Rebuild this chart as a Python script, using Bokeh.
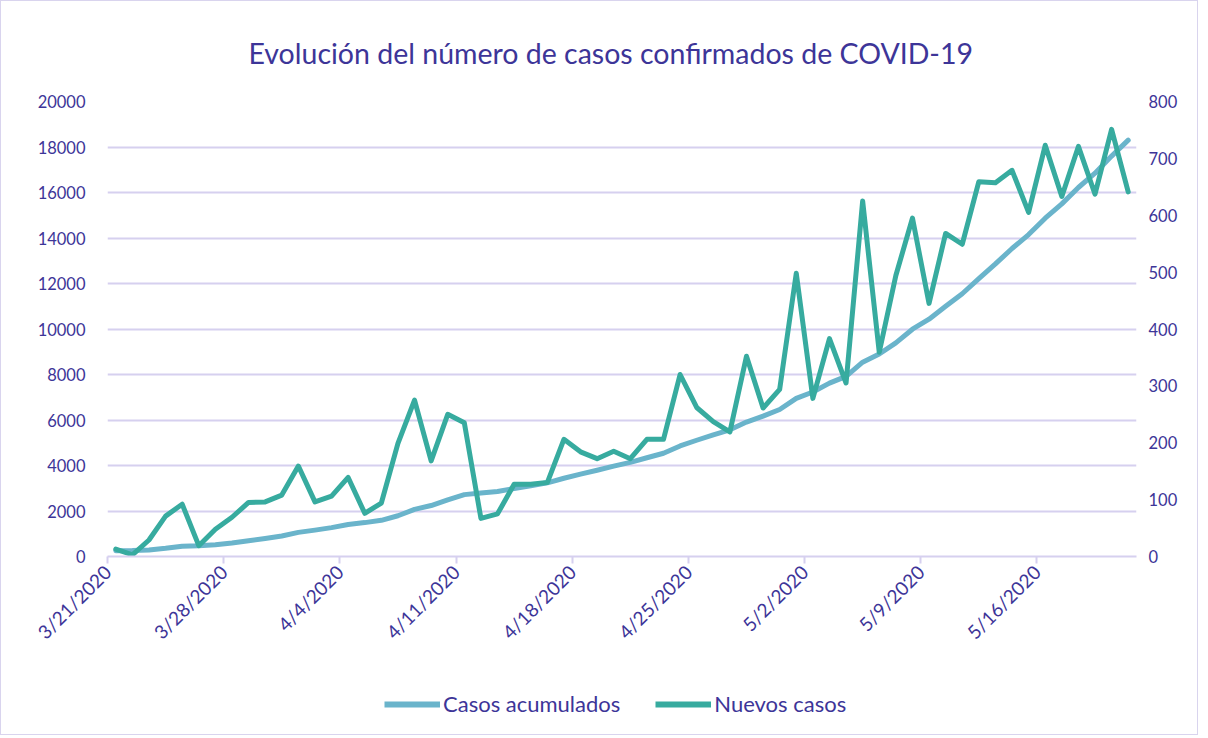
import math
from bokeh.plotting import figure
from bokeh.layouts import column
from bokeh.models import (Range1d, LinearAxis, FixedTicker, Legend, LegendItem,
                          ColumnDataSource)
from bokeh.embed import file_html
from bokeh.resources import INLINE

title_text = "Evolución del número de casos confirmados de COVID-19"

tick_labels = ["3/21/2020", "3/28/2020", "4/4/2020", "4/11/2020", "4/18/2020",
               "4/25/2020", "5/2/2020", "5/9/2020", "5/16/2020"]

casos_acumulados = [250, 260, 290, 360, 450, 470, 520, 590, 690, 790,
                    900, 1060, 1160, 1270, 1410, 1490, 1590, 1790, 2070, 2240,
                    2490, 2720, 2790, 2860, 2990, 3110, 3240, 3440, 3620, 3790,
                    3970, 4140, 4340, 4540, 4860, 5110, 5350, 5570, 5910, 6170,
                    6460, 6950, 7230, 7620, 7920, 8540, 8900, 9390, 9990, 10430,
                    11000, 11550, 12210, 12860, 13540, 14150, 14870, 15500, 16220, 16850,
                    17600, 18300]

nuevos_casos = [13, 3, 29, 71, 92, 19, 48, 69, 95, 96,
                108, 159, 96, 106, 139, 76, 94, 199, 275, 168,
                250, 235, 67, 75, 127, 127, 130, 206, 184, 172,
                185, 172, 206, 206, 320, 262, 237, 219, 352, 261,
                294, 498, 278, 383, 305, 625, 359, 494, 595, 445,
                568, 549, 659, 657, 679, 605, 723, 633, 721, 637,
                751, 641]

left_ticks = [0, 2000, 4000, 6000, 8000, 10000, 12000, 14000, 16000, 18000, 20000]
right_ticks = [0, 100, 200, 300, 400, 500, 600, 700, 800]
series_names = ["Casos acumulados", "Nuevos casos"]

TXT = "#3D3598"
GRID = "#D6D0EF"
C_CUM = "#6AB4CB"
C_NEW = "#37AB9F"
FONT = "Lato"
W = 1196

n_days = len(nuevos_casos)
x = [i + 0.5 for i in range(n_days)]
src = ColumnDataSource(dict(x=x, cum=casos_acumulados, new=nuevos_casos))

p = figure(width=W, height=660, x_range=Range1d(0, n_days),
           y_range=Range1d(left_ticks[0], left_ticks[-1]),
           output_backend="svg", toolbar_location=None,
           min_border_left=106, min_border_right=61,
           min_border_top=99, min_border_bottom=105,
           background_fill_color="white", border_fill_color="white")
p.outline_line_color = None

p.title.text = title_text
p.title.align = "left"
p.title.offset = 141
p.title.standoff = 64
p.title.text_color = TXT
p.title.text_font = FONT
p.title.text_font_style = "normal"
p.title.text_font_size = "28.5px"

p.extra_y_ranges = {"right": Range1d(right_ticks[0], right_ticks[-1])}

yl = p.yaxis[0]
yl.ticker = FixedTicker(ticks=left_ticks)
yr = LinearAxis(y_range_name="right", ticker=FixedTicker(ticks=right_ticks))
p.add_layout(yr, "right")
for ax, so in ((yl, 22), (yr, 12)):
    ax.axis_line_color = None
    ax.major_tick_line_color = None
    ax.minor_tick_line_color = None
    ax.major_tick_out = 0
    ax.major_tick_in = 0
    ax.major_label_standoff = so
    ax.major_label_text_color = TXT
    ax.major_label_text_font = FONT
    ax.major_label_text_font_size = "16.5px"

xa = p.xaxis[0]
tick_pos = [7 * k for k in range(len(tick_labels))]
xa.ticker = FixedTicker(ticks=tick_pos)
xa.major_label_overrides = {t: lab for t, lab in zip(tick_pos, tick_labels)}
xa.axis_line_color = GRID
xa.axis_line_width = 2
xa.major_tick_line_color = GRID
xa.major_tick_line_width = 2
xa.major_tick_out = 7
xa.major_tick_in = 0
xa.minor_tick_line_color = None
xa.major_label_orientation = math.pi / 4
xa.major_label_standoff = 5
xa.major_label_text_color = TXT
xa.major_label_text_font = FONT
xa.major_label_text_font_size = "19px"

p.xgrid.grid_line_color = None
p.ygrid.ticker = FixedTicker(ticks=left_ticks)
p.ygrid.grid_line_color = GRID
p.ygrid.grid_line_width = 2

p.line("x", "cum", source=src, line_color=C_CUM, line_width=5,
       line_join="round", line_cap="round")
p.line("x", "new", source=src, y_range_name="right", line_color=C_NEW,
       line_width=5, line_join="round", line_cap="round")

# legend strip below the chart (its frame is aligned with the chart's frame)
leg = figure(width=W, height=73, x_range=Range1d(0, 1), y_range=Range1d(0, 1),
             output_backend="svg", toolbar_location=None,
             x_axis_type=None, y_axis_type=None,
             min_border_left=0, min_border_right=0, min_border_top=0,
             min_border_bottom=0, border_fill_color="white")
leg.outline_line_color = None
leg.grid.visible = False
# same series, entirely outside this strip's ranges: only their legend swatches show
lr1 = leg.line("x", "cum", source=src, line_color=C_CUM, line_width=6)
lr2 = leg.line("x", "new", source=src, line_color=C_NEW, line_width=6)
legend = Legend(items=[LegendItem(label=series_names[0], renderers=[lr1]),
                       LegendItem(label=series_names[1], renderers=[lr2])],
                orientation="horizontal", location=(277, 17))
legend.padding = 0
legend.margin = 0
legend.spacing = 35
legend.glyph_width = 56
legend.glyph_height = 24
legend.label_standoff = 3
legend.border_line_alpha = 0
legend.background_fill_alpha = 0
legend.label_text_color = TXT
legend.label_text_font = FONT
legend.label_text_font_size = "22px"
leg.add_layout(legend, "center")

lay = column(p, leg, spacing=0)
lay.styles = {"border": "1.5px solid #D9D4EE"}

open("out.html", "w").write(file_html(lay, INLINE))
